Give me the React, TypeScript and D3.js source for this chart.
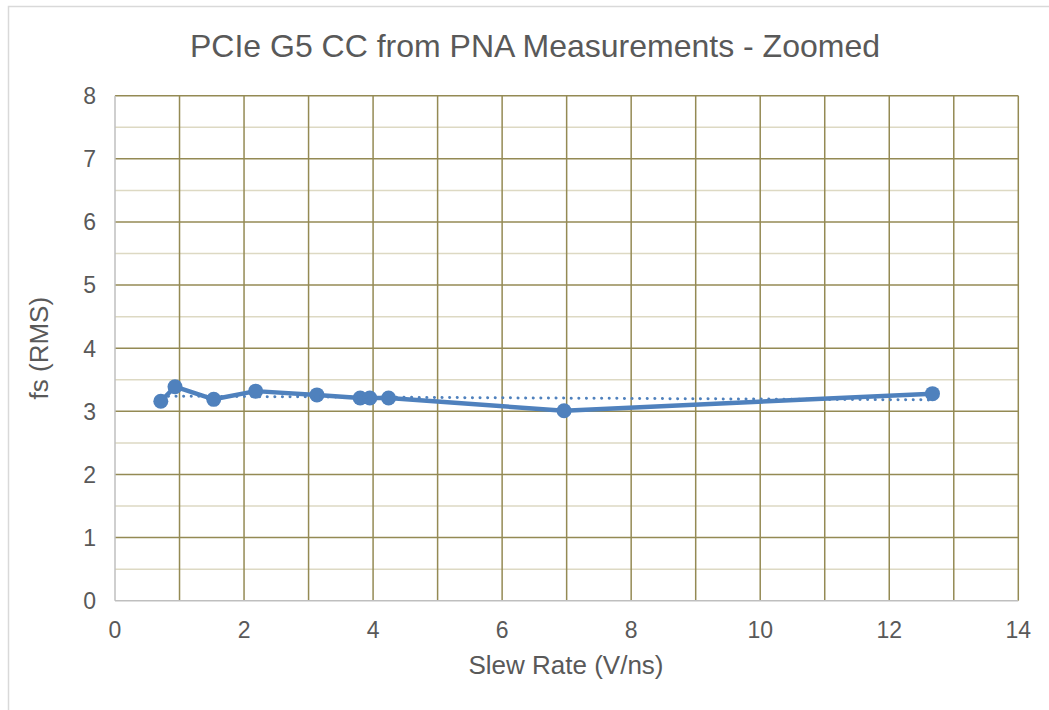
import React from "react";
import * as d3 from "d3";

const slewRate = [0.71, 0.93, 1.53, 2.18, 3.13, 3.8, 3.95, 4.24, 6.96, 12.67];
const fsRms = [3.16, 3.39, 3.19, 3.32, 3.26, 3.21, 3.21, 3.21, 3.01, 3.28];
const xTicks = [0, 2, 4, 6, 8, 10, 12, 14];
const yTicks = [0, 1, 2, 3, 4, 5, 6, 7, 8];

const W = 1049;
const H = 710;
const left = 115;
const right = 1018.3;
const top = 95.7;
const bottom = 600.7;
const BLUE = "#4F81BD";
const TXT = "#595959";
const FONT = "'Liberation Sans', Arial, sans-serif";

export default function App() {
  const x = d3.scaleLinear().domain([0, 14]).range([left, right]);
  const y = d3.scaleLinear().domain([0, 8]).range([bottom, top]);

  const pts = slewRate.map((v, i) => [v, fsRms[i]] as [number, number]);
  const line = d3
    .line<[number, number]>()
    .x((d) => x(d[0]))
    .y((d) => y(d[1]));

  // linear trendline (least squares)
  const mx = d3.mean(slewRate)!;
  const my = d3.mean(fsRms)!;
  let sxy = 0,
    sxx = 0;
  pts.forEach(([a, b]) => {
    sxy += (a - mx) * (b - my);
    sxx += (a - mx) * (a - mx);
  });
  const slope = sxy / sxx;
  const icpt = my - slope * mx;
  const x0 = d3.min(slewRate)!;
  const x1 = d3.max(slewRate)!;
  const trend: [number, number][] = [
    [x0, icpt + slope * x0],
    [x1, icpt + slope * x1],
  ];

  const vMajor = d3.range(1, 15);
  const hMajor = d3.range(1, 9);
  const hMinor = d3.range(0.5, 8, 1);

  return (
    <svg
      width={W}
      height={H}
      style={{ position: "absolute", left: 0, top: 0, background: "#fff" }}
    >
      <rect x={8.5} y={6.5} width={1100} height={800} fill="#fff" stroke="#D9D9D9" strokeWidth={1.5} />
      <text
        x={535}
        y={57}
        textAnchor="middle"
        fontFamily={FONT}
        fontSize={32}
        fill={TXT}
      >
        PCIe G5 CC from PNA Measurements - Zoomed
      </text>
      {hMinor.map((v) => (
        <line key={"hm" + v} x1={left} x2={right} y1={y(v)} y2={y(v)} stroke="#DDD9C3" strokeWidth={1.5} />
      ))}
      {vMajor.map((v) => (
        <line key={"v" + v} x1={x(v)} x2={x(v)} y1={top} y2={bottom} stroke="#948A54" strokeWidth={1.5} />
      ))}
      {hMajor.map((v) => (
        <line key={"h" + v} x1={left} x2={right} y1={y(v)} y2={y(v)} stroke="#948A54" strokeWidth={1.5} />
      ))}
      <line x1={left} x2={left} y1={top} y2={bottom} stroke="#BFBFBF" strokeWidth={1.5} />
      <line x1={left} x2={right} y1={bottom} y2={bottom} stroke="#BFBFBF" strokeWidth={1.5} />
      {yTicks.map((v) => (
        <text key={"yt" + v} x={96} y={y(v) + 8.3} textAnchor="end" fontFamily={FONT} fontSize={23} fill={TXT}>
          {v}
        </text>
      ))}
      {xTicks.map((v) => (
        <text key={"xt" + v} x={x(v)} y={638} textAnchor="middle" fontFamily={FONT} fontSize={23} fill={TXT}>
          {v}
        </text>
      ))}
      <text x={566} y={674} textAnchor="middle" fontFamily={FONT} fontSize={26} fill={TXT}>
        Slew Rate (V/ns)
      </text>
      <text
        transform={`translate(48,${(top + bottom) / 2}) rotate(-90)`}
        textAnchor="middle"
        fontFamily={FONT}
        fontSize={26}
        fill={TXT}
      >
        fs (RMS)
      </text>
      <path d={line(pts) || ""} fill="none" stroke={BLUE} strokeWidth={4.5} strokeLinejoin="round" />
      {pts.map((d, i) => (
        <circle key={"c" + i} cx={x(d[0])} cy={y(d[1])} r={7.5} fill={BLUE} />
      ))}
      <path
        d={line(trend) || ""}
        fill="none"
        stroke={BLUE}
        strokeWidth={3}
        strokeDasharray="0.1 7.5"
        strokeLinecap="round"
      />
    </svg>
  );
}
